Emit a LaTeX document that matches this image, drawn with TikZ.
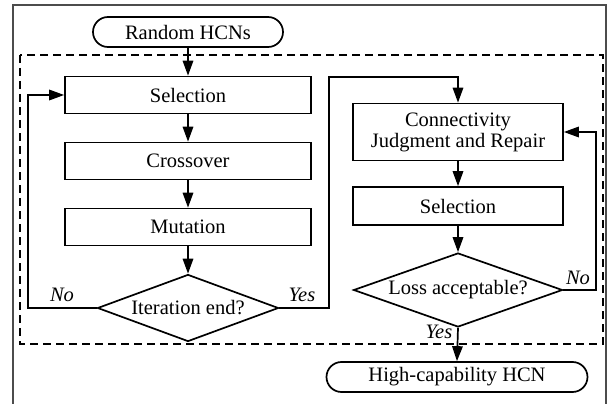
\documentclass[tikz,border=0pt]{standalone}
\usepackage{fontspec}
\setmainfont{Liberation Serif}
\usetikzlibrary{arrows.meta,shapes.geometric}
\begin{document}
\begin{tikzpicture}[x=1pt,y=-1pt,
  every node/.style={font=\fontsize{20.5}{21}\selectfont},
  box/.style={draw,line width=1.7pt,minimum width=246pt,minimum height=37pt,inner sep=0pt},
  rbox/.style={draw,line width=1.7pt,rounded corners=15pt,minimum height=30pt,inner sep=0pt},
  dia/.style={draw,line width=1.7pt,shape=diamond,inner sep=0pt},
  flow/.style={line width=1.7pt,-{Triangle[length=15pt,width=10.5pt]}},
  lbl/.style={font=\fontsize{20.5}{21}\selectfont\itshape}]
\useasboundingbox (0,0) rectangle (611,404);
\draw[gray!60!black,line width=1.1pt] (13,404) -- (13,5) -- (606,5) -- (606,404);
\draw[line width=1.2pt,dash pattern=on 8pt off 5pt] (20,55) rectangle (603,344);
\node[rbox,minimum width=190pt] (rand) at (188,32) {Random HCNs};
\node[box] (sel1) at (188,95) {Selection};
\node[box] (cross) at (188,161) {Crossover};
\node[box] (mut) at (188,227) {Mutation};
\node[dia,aspect=2.7,minimum width=181pt,minimum height=67pt] (iter) at (188,308) {Iteration end?};
\node[box,minimum width=210pt,minimum height=57pt,align=center] (conn) at (458,132) {Connectivity\\Judgment and Repair};
\node[box,minimum width=210pt,minimum height=38pt] (sel2) at (458,206) {Selection};
\node[dia,aspect=2.82,minimum width=209pt,minimum height=74pt] (loss) at (458,290) {Loss acceptable?};
\node[rbox,minimum width=261pt] (high) at (457,377) {High-capability HCN};
\coordinate (l1) at (28,308);
\coordinate (y1) at (329,77);
\coordinate (n2) at (596,132);
\draw[flow] (rand) -- (sel1);
\draw[flow] (sel1) -- (cross);
\draw[flow] (cross) -- (mut);
\draw[flow] (mut) -- (iter);
\draw[flow] (iter.west) -- (l1) |- (sel1.west);
\draw[flow] (iter.east) -| (y1) -| (conn.north);
\draw[flow] (conn) -- (sel2);
\draw[flow] (sel2) -- (loss);
\draw[flow] (loss.east) -| (n2) -- (conn.east);
\draw[flow] (loss.south) -- (high.north);
\node[lbl] (no1) at (62,295) {No};
\node[lbl] (yes1) at (302,295) {Yes};
\node[lbl] (no2) at (578,278) {No};
\node[lbl] (yes2) at (439,332) {Yes};
\end{tikzpicture}
\end{document}
